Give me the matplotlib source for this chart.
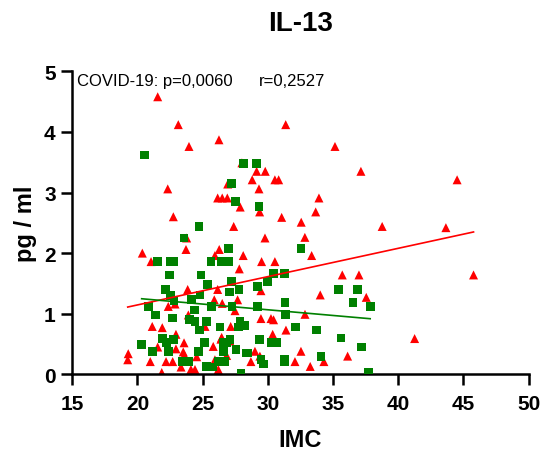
import matplotlib
matplotlib.use("Agg")
import matplotlib.pyplot as plt
import numpy as np

plt.rcParams['font.family'] = ['Liberation Sans', 'DejaVu Sans']

# red triangles (COVID-19)
red_x = [21.55, 23.13, 26.25, 23.95, 22.32, 26.92, 26.15, 26.50, 26.89, 27.88,
         22.75, 27.38, 28.01, 31.37, 35.15, 29.14, 29.80, 37.14, 28.80, 30.54,
         30.83, 29.32, 33.92, 29.37, 33.67, 31.06, 32.56, 38.77, 43.66, 44.52,
         45.78, 41.26, 23.77, 23.72, 20.37, 21.04, 25.94, 26.27, 27.81, 22.36,
         22.88, 23.85, 25.89, 26.50, 27.48, 23.90, 25.18, 21.13, 21.90, 27.15,
         22.95, 21.55, 23.57, 25.81, 26.46, 27.09, 19.29, 19.25, 22.95, 23.51,
         23.59, 24.54, 20.98, 22.19, 22.70, 23.34, 24.10, 24.41, 26.20, 21.86,
         25.94, 28.11, 27.68, 26.84, 26.15, 29.78, 32.84, 33.36, 29.52, 30.54,
         35.71, 36.99, 29.47, 34.02, 37.55, 32.85, 29.47, 30.24, 30.44, 31.39,
         30.37, 29.01, 29.39, 32.54, 36.12, 28.70, 32.08, 34.30, 33.25, 26.40]
red_y = [4.58, 4.12, 3.87, 3.76, 3.06, 3.14, 2.91, 2.91, 2.91, 2.76,
         2.60, 2.44, 3.49, 4.12, 3.76, 3.35, 3.35, 3.35, 3.21, 3.21,
         3.21, 3.06, 2.91, 2.68, 2.68, 2.59, 2.51, 2.44, 2.42, 3.21,
         1.64, 0.59, 2.25, 2.06, 2.00, 1.86, 1.96, 2.06, 1.74, 1.12,
         1.16, 1.40, 1.23, 1.17, 1.05, 0.98, 0.79, 0.79, 0.77, 0.79,
         0.66, 0.45, 0.52, 0.46, 0.61, 0.55, 0.34, 0.24, 0.42, 0.37,
         0.32, 0.29, 0.21, 0.21, 0.21, 0.12, 0.08, 0.08, 0.08, 0.03,
         0.24, 1.96, 1.23, 0.31, 1.40, 2.25, 2.26, 1.96, 1.86, 1.86,
         1.64, 1.64, 1.38, 1.31, 1.27, 0.99, 0.92, 0.92, 0.90, 0.73,
         0.66, 0.38, 0.30, 0.38, 0.30, 0.21, 0.21, 0.21, 0.13, 0.58]

# green squares
green_x = [20.53, 28.16, 29.15, 27.20, 27.53, 24.72, 29.32, 23.57, 21.55, 22.49,
           22.75, 26.96, 25.64, 26.46, 26.96, 22.44, 24.87, 22.13, 25.38, 27.22,
           22.55, 22.80, 24.16, 24.79, 27.04, 25.69, 27.25, 20.83, 21.40, 22.70,
           24.36, 23.97, 24.41, 25.31, 24.74, 26.33, 27.73, 21.93, 22.24, 22.75,
           20.32, 25.12, 26.58, 26.84, 27.55, 21.17, 22.36, 24.66, 23.47, 23.90,
           25.31, 25.77, 26.20, 26.71, 27.78, 27.86, 28.24, 28.37, 27.94, 26.58,
           32.54, 30.44, 31.26, 29.95, 29.22, 35.40, 36.86, 31.31, 36.53, 37.85,
           29.22, 31.37, 32.13, 33.74, 29.37, 30.29, 30.67, 35.61, 37.19, 28.45,
           34.07, 29.47, 29.65, 31.26, 31.26, 37.70, 27.09]
green_y = [3.62, 3.48, 3.48, 3.15, 2.85, 2.44, 2.77, 2.25, 1.86, 1.86,
           1.86, 2.07, 1.86, 1.86, 1.86, 1.64, 1.64, 1.40, 1.48, 1.53,
           1.30, 1.21, 1.23, 1.31, 1.36, 1.12, 1.12, 1.12, 0.98, 0.93,
           1.06, 0.90, 0.87, 0.87, 0.73, 0.78, 0.78, 0.59, 0.52, 0.57,
           0.49, 0.52, 0.53, 0.53, 0.41, 0.37, 0.37, 0.37, 0.21, 0.21,
           0.13, 0.12, 0.21, 0.21, 1.40, 0.87, 0.80, 0.35, 0.02, 0.37,
           2.07, 1.66, 1.66, 1.53, 1.45, 1.40, 1.40, 1.18, 1.18, 1.12,
           1.12, 0.99, 0.78, 0.73, 0.57, 0.53, 0.53, 0.60, 0.45, 0.35,
           0.30, 0.24, 0.17, 0.25, 0.21, 0.03, 0.57]

# regression lines (slope, intercept)
red_fit = (0.0467, 0.211)
green_fit = (-0.0188, 1.629)

x_ticks = [15, 20, 25, 30, 35, 40, 45, 50]
y_ticks = [0, 1, 2, 3, 4, 5]

fig = plt.figure(figsize=(5.45, 4.6), dpi=100)
ax = fig.add_axes([0.1327, 0.1841, 0.8371, 0.6587])

ax.scatter(red_x, red_y, marker='^', s=42, color='#ff0000', edgecolors='none', zorder=2)
ax.scatter(green_x, green_y, marker='s', s=40, color='#008000', edgecolors='none', zorder=3)

rx = np.array([min(red_x), max(red_x)])
ax.plot(rx, red_fit[0] * rx + red_fit[1], color='#ff0000', lw=1.2, zorder=4)
gx = np.array([min(green_x), max(green_x)])
ax.plot(gx, green_fit[0] * gx + green_fit[1], color='#008000', lw=1.2, zorder=4)

ax.set_xlim(15, 50)
ax.set_ylim(0, 5)
ax.set_xticks(x_ticks)
ax.set_yticks(y_ticks)
for s in ['top', 'right']:
    ax.spines[s].set_visible(False)
for s in ['left', 'bottom']:
    ax.spines[s].set_linewidth(1.8)
ax.tick_params(axis='both', length=8, width=1.8, labelsize=15)
ax.tick_params(axis='x', pad=6)
ax.tick_params(axis='y', pad=4)
for lab in ax.get_xticklabels() + ax.get_yticklabels():
    lab.set_fontweight('bold')

ax.set_xlabel('IMC', fontsize=17, fontweight='bold', labelpad=11)
ax.set_ylabel('pg / ml', fontsize=17, fontweight='bold', labelpad=5)

ax.text(15.38, 4.77, 'COVID-19: p=0,0060', fontsize=12, va='baseline', ha='left')
ax.text(29.34, 4.77, 'r=0,2527', fontsize=12, va='baseline', ha='left')

fig.text(0.551, 0.948, 'IL-13', fontsize=20, fontweight='bold', ha='center', va='center')

fig.savefig('out.png', dpi=100)
